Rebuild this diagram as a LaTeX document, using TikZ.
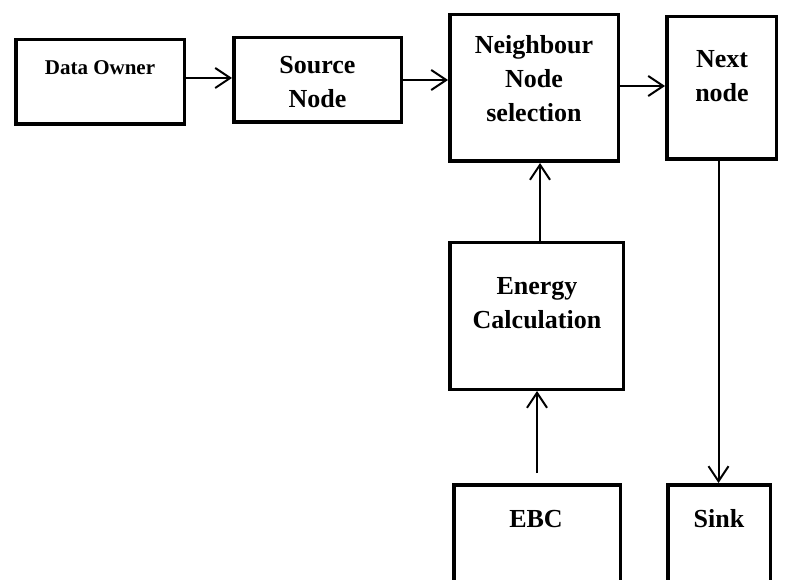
\documentclass[tikz,border=0pt]{standalone}
\usepackage{fontspec}
\setmainfont{Liberation Serif}
\usetikzlibrary{arrows.meta}
\begin{document}
\begin{tikzpicture}[x=1pt,y=-1pt,
  box/.style={draw=black,line width=3.5pt,rectangle,inner sep=0pt},
  lbl/.style={align=center,font=\bfseries\fontsize{26}{34}\selectfont,inner sep=0pt},
  smalllbl/.style={align=center,font=\bfseries\fontsize{21}{27}\selectfont,inner sep=0pt},
  arr/.style={line width=2pt,-{Straight Barb[length=15pt,width=20pt,line width=2pt]}}]
\clip (0,0) rectangle (785,580);
\fill[white] (0,0) rectangle (785,580);
% boxes
\node[box,minimum width=168.5pt,minimum height=84.5pt] (do) at (100,82) {};
\node[box,minimum width=167.5pt,minimum height=84.5pt] (src) at (317.5,80) {};
\node[box,minimum width=168.5pt,minimum height=146.5pt] (nb) at (534,88) {};
\node[box,minimum width=109.5pt,minimum height=142.5pt] (nx) at (721.5,88) {};
\node[box,minimum width=173.5pt,minimum height=146.5pt] (en) at (536.5,316) {};
\node[box,minimum width=166.5pt,minimum height=133.5pt] (ebc) at (537,551.5) {};
\node[box,minimum width=102.5pt,minimum height=133.5pt] (sk) at (719,551.5) {};
% labels
\node[smalllbl] (tdo) at (100,68) {Data Owner};
\node[lbl] (tsrc) at (317.5,82) {Source\\Node};
\node[lbl] (tnb) at (534,79) {Neighbour\\Node\\selection};
\node[lbl] (tnx) at (722,76) {Next\\node};
\node[lbl] (ten) at (537,303) {Energy\\Calculation};
\node[lbl] (tebc) at (536,519) {EBC};
\node[lbl] (tsk) at (719,519) {Sink};
% connectors
\draw[arr] ([yshift=4pt]do.east) -- ([yshift=4pt]do.east -| src.west);
\draw[arr] (src.east) -- (src.east -| nb.west);
\draw[arr] ([yshift=2pt]nb.east) -- ([yshift=2pt]nb.east -| nx.west);
\draw[arr] ([xshift=3.5pt]en.north) -- ([xshift=3.5pt]en.north |- nb.south);
\draw[arr] ([yshift=10pt]ebc.north) -- (ebc.north |- en.south);
\draw[arr] ([xshift=-3pt]nx.south) -- ([xshift=-3pt]nx.south |- sk.north);
\end{tikzpicture}
\end{document}
